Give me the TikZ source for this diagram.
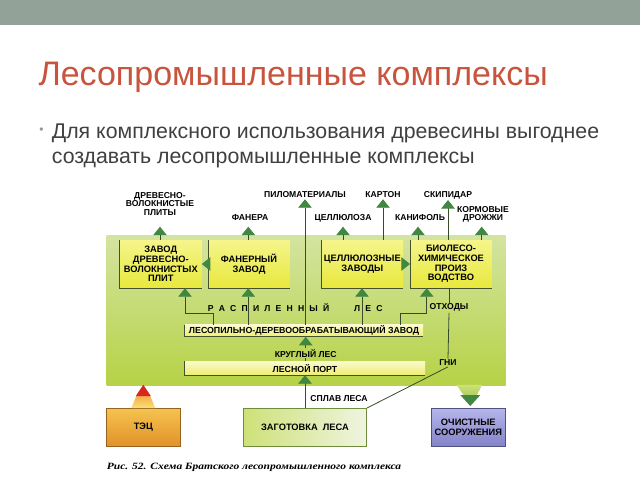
\documentclass[tikz,border=0pt]{standalone}
\usepackage{fontspec}
\setmainfont{Liberation Sans}
\newfontfamily\capfam[FakeStretch=1.2]{Liberation Serif}
\usetikzlibrary{arrows.meta,calc}
\definecolor{band}{RGB}{147,162,152}
\definecolor{titlered}{RGB}{200,84,62}
\definecolor{textgray}{RGB}{64,64,64}
\definecolor{bulletgray}{RGB}{150,150,150}
\definecolor{gtop}{RGB}{212,228,160}
\definecolor{gbot}{RGB}{182,210,70}
\definecolor{ytop}{RGB}{245,245,140}
\definecolor{ybot}{RGB}{232,232,60}
\definecolor{bartop}{RGB}{250,250,205}
\definecolor{barbot}{RGB}{238,238,110}
\definecolor{edgecol}{RGB}{70,80,45}
\definecolor{stemcol}{RGB}{55,75,45}
\definecolor{headgreen}{RGB}{65,135,65}
\definecolor{zagl}{RGB}{205,225,120}
\definecolor{zagr}{RGB}{240,244,225}
\definecolor{zagd}{RGB}{110,140,60}
\definecolor{tect}{RGB}{245,195,80}
\definecolor{tecb}{RGB}{225,145,40}
\definecolor{tecd}{RGB}{150,100,30}
\definecolor{tecy}{RGB}{250,225,120}
\definecolor{teco}{RGB}{245,170,70}
\definecolor{tecred}{RGB}{215,40,30}
\definecolor{ocht}{RGB}{182,182,236}
\definecolor{ochb}{RGB}{130,130,200}
\definecolor{ochd}{RGB}{80,80,130}
\definecolor{funt}{RGB}{205,225,120}
\definecolor{funb}{RGB}{175,205,95}
\newcommand{\dgf}{\fontsize{9.3}{9.6}\selectfont\bfseries}
\newcommand{\brf}{\fontsize{8.8}{9.4}\selectfont\bfseries}
\newcommand{\lbf}{\fontsize{8.6}{8.2}\selectfont\bfseries}
\newcommand{\gp}{\kern5.2pt}
\begin{document}
\begin{tikzpicture}[x=1pt,y=-1pt,
  box/.style={minimum width=81.7pt,minimum height=48pt,inner sep=0pt,top color=ytop,bottom color=ybot,align=center,font=\dgf},
  bar/.style={inner sep=0pt,top color=bartop,bottom color=barbot,font=\brf},
  lab/.style={inner sep=1pt,align=center,font=\lbf},
  edgeln/.style={draw=edgecol,line width=0.8pt},
  ln/.style={draw=stemcol,line width=0.8pt},
  arr/.style={draw=stemcol,line width=0.8pt,-{Triangle[width=13.5pt,length=8.5pt,fill=headgreen,color=headgreen]}},
  outbox/.style={minimum width=73.3pt,minimum height=38.4pt,inner sep=0pt,align=center,font=\dgf,line width=0.5pt}]
\useasboundingbox (0,0) rectangle (640,480);
\fill[white] (0,0) rectangle (640,480);
\fill[band] (0,0) rectangle (640,25);
% title and bullet
\node[anchor=base west,inner sep=0pt,text=titlered,font=\fontsize{34}{38}\selectfont] (title) at (38.3,85.5) {Лесопромышленные комплексы};
\node[anchor=base,inner sep=0pt,text=bulletgray,font=\fontsize{12}{12}\selectfont] (bul) at (41.5,133) {•};
\node[anchor=base west,inner sep=0pt,text=textgray,font=\fontsize{21.3}{25}\selectfont] (line1) at (51.7,138.3) {Для комплексного использования древесины выгоднее};
\node[anchor=base west,inner sep=0pt,text=textgray,font=\fontsize{21.3}{25}\selectfont] (line2) at (51.7,163.3) {создавать лесопромышленные комплексы};
% green field
\shade[top color=gtop,bottom color=gbot] (106.7,235) rectangle (505.7,385);
% boxes
\node[box] (b1) at (160.8,264) {ЗАВОД\\ДРЕВЕСНО-\\ВОЛОКНИСТЫХ\\ПЛИТ};
\node[box] (b2) at (249,264) {ФАНЕРНЫЙ\\ЗАВОД};
\node[box] (b3) at (362.3,264) {ЦЕЛЛЮЛОЗНЫЕ\\ЗАВОДЫ};
\node[box] (b4) at (451,264) {БИОЛЕСО-\\ХИМИЧЕСКОЕ\\ПРОИЗ\\ВОДСТВО};
\node[bar,minimum width=238pt,minimum height=11.7pt] (lp) at (304,330.8) {ЛЕСОПИЛЬНО-ДЕРЕВООБРАБАТЫВАЮЩИЙ ЗАВОД};
\node[bar,minimum width=240pt,minimum height=13.3pt] (port) at (305,368.3) {ЛЕСНОЙ ПОРТ};
\foreach \n in {b1,b2,b3,b4,lp,port} \draw[edgeln] (\n.north west) |- (\n.south east);
% outer boxes
\node[outbox,top color=tect,bottom color=tecb,draw=tecd] (tec) at (143.3,427.5) {ТЭЦ};
\node[outbox,minimum width=123.4pt,left color=zagl,right color=zagr,draw=zagd] (zag) at (305,427.5) {ЗАГОТОВКА\ \ ЛЕСА};
\node[outbox,top color=ocht,bottom color=ochb,draw=ochd] (och) at (468.3,427.5) {ОЧИСТНЫЕ\\СООРУЖЕНИЯ};
% top labels
\node[lab] (dvp) at (160,204) {ДРЕВЕСНО-\\ВОЛОКНИСТЫЕ\\ПЛИТЫ};
\node[lab] (fan) at (250,218) {ФАНЕРА};
\node[lab] (pilo) at (305,195) {ПИЛОМАТЕРИАЛЫ};
\node[lab] (kart) at (383,195) {КАРТОН};
\node[lab] (cell) at (343,218) {ЦЕЛЛЮЛОЗА};
\node[lab] (kan) at (420,218) {КАНИФОЛЬ};
\node[lab] (skip) at (448,195) {СКИПИДАР};
\node[lab] (korm) at (483,214) {КОРМОВЫЕ\\ДРОЖЖИ};
% tips
\coordinate (tdvp) at (160,226.7);
\coordinate (tfan) at (248.3,226.7);
\coordinate (tcell) at (343,226.7);
\coordinate (tkan) at (418,226.7);
\coordinate (tkorm) at (481.7,226.7);
\draw[arr] (b1.north -| tdvp) -- (tdvp);
\draw[arr] (b2.north -| tfan) -- (tfan);
\draw[arr] (b3.north -| tcell) -- (tcell);
\draw[arr] (b4.north -| tkan) -- (tkan);
\draw[arr] (b4.north -| tkorm) -- (tkorm);
\draw[arr] (b3.north -| kart.south) -- (kart.south);
\draw[arr] (b4.north -| skip.south) -- (skip.south);
\draw[arr] (lp.north -| pilo.south) -- (pilo.south);
% side arrows
\draw[arr] (b2.west) -- (b1.east);
\draw[arr] (b3.east) -- (b4.west);
% arrows from sawmill
\draw[arr] (lp.north -| 213.3,0) |- (185,313.3) -- (b1.south -| 185,0);
\draw[arr] (lp.north -| 248.3,0) -- (b2.south -| 248.3,0);
\draw[arr] (lp.north -| 362,0) -- (b3.south -| 362,0);
\draw[arr] (lp.north -| 400,0) |- (426.7,313.3) -- (b4.south -| 426.7,0);
% labels middle
\node[lab,anchor=base west] (rasp) at (206.7,311) {Р\gp А\gp С\gp П\gp И\gp Л\gp Е\gp Н\gp Н\gp Ы\gp Й};
\node[lab,anchor=base west] (les) at (353,311) {Л\gp Е\gp С};
\node[lab] (otx) at (449,307.7) {ОТХОДЫ};
\node[lab] (gni) at (448,362.7) {ГНИ};
\node[lab] (kl) at (305.7,353.3) {КРУГЛЫЙ ЛЕС};
\node[lab] (spl) at (339,398.3) {СПЛАВ ЛЕСА};
\draw[ln] (b4.south -| otx) -- (otx.north);
\draw[ln] (otx.south) -- (gni.north);
\draw[ln] (gni.south) -- (zag.north east);
\draw[arr] (kl.north) -- (lp.south -| kl.north);
\draw[ln] (port.north -| kl.south) -- (kl.south);
\draw[arr] (zag.north) -- (port.south);
% TEC fat arrow
\shade[bottom color=tecy,top color=teco] ($(tec.north)+(-12,0)$) -- ($(tec.north)+(12,0)$) -- ($(tec.north)+(6.5,-13)$) -- ($(tec.north)+(-6.5,-13)$) -- cycle;
\fill[tecred] ($(tec.north)+(-7.5,-12)$) -- ($(tec.north)+(7.5,-12)$) -- ($(tec.north)+(0,-23.3)$) -- cycle;
% funnel to cleaning
\shade[top color=funt,bottom color=funb] ($(och.north)+(-12,-23.3)$) -- ($(och.north)+(14,-23.3)$) -- ($(och.north)+(8,-12)$) -- ($(och.north)+(-4,-12)$) -- cycle;
\fill[headgreen] ($(och.north)+(-8,-13)$) -- ($(och.north)+(12,-13)$) -- ($(och.north)+(2,-2)$) -- cycle;
% caption
\node[anchor=base west,inner sep=0pt,font=\capfam\bfseries\itshape\fontsize{9.6}{10}\selectfont] (cap) at (106.7,469) {Рис. 52. Схема Братского лесопромышленного комплекса};
\end{tikzpicture}
\end{document}
